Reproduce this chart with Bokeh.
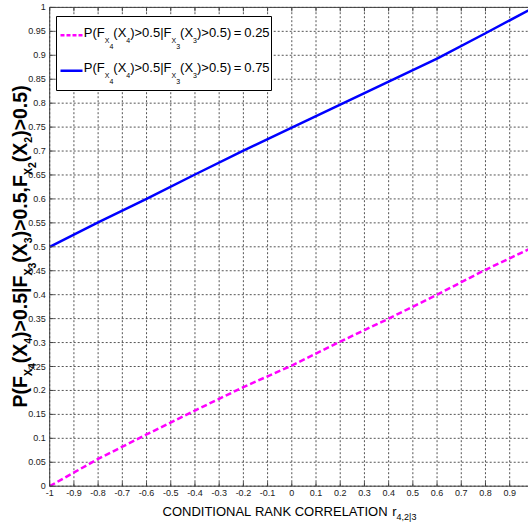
import math
from bokeh.plotting import figure
from bokeh.models import Label, ColumnDataSource
from bokeh.core.properties import value
from bokeh.embed import file_html
from bokeh.resources import INLINE

# ---------------- data ----------------
r_cond = [-1.0, -0.8, -0.6, -0.4, -0.2, 0.0, 0.2, 0.4, 0.6, 0.8, 1.0]
p_low = [0.000, 0.057, 0.108, 0.158, 0.207, 0.252, 0.302, 0.350, 0.400, 0.452, 0.500]
p_high = [0.500, 0.551, 0.600, 0.651, 0.701, 0.749, 0.797, 0.845, 0.893, 0.946, 1.000]

x_ticks = [-1.0, -0.9, -0.8, -0.7, -0.6, -0.5, -0.4, -0.3, -0.2, -0.1, 0.0,
           0.1, 0.2, 0.3, 0.4, 0.5, 0.6, 0.7, 0.8, 0.9]
x_tick_labels = ["-1", "-0.9", "-0.8", "-0.7", "-0.6", "-0.5", "-0.4", "-0.3", "-0.2", "-0.1", "0",
                 "0.1", "0.2", "0.3", "0.4", "0.5", "0.6", "0.7", "0.8", "0.9"]
y_ticks = [0.0, 0.05, 0.1, 0.15, 0.2, 0.25, 0.3, 0.35, 0.4, 0.45, 0.5,
           0.55, 0.6, 0.65, 0.7, 0.75, 0.8, 0.85, 0.9, 0.95, 1.0]
y_tick_labels = ["0", "0.05", "0.1", "0.15", "0.2", "0.25", "0.3", "0.35", "0.4", "0.45", "0.5",
                 "0.55", "0.6", "0.65", "0.7", "0.75", "0.8", "0.85", "0.9", "0.95", "1"]
x_domain_end = 1.0
legend_values = ["0.25", "0.75"]
legend_colors = ["#ff00ff", "#0000ff"]

# ---------------- layout (pixels) ----------------
W, H = 528, 529
X0PX, XS = 49.2, 242.1      # pixel column of r=-1 and pixels per unit
Y0PX, YS = 485.7, 478.8     # pixel row of p=0 and pixels per unit
x_rng = (-1.0 - X0PX / XS, -1.0 + (W - X0PX) / XS)
y_rng = ((Y0PX - H) / YS, Y0PX / YS)

def dx(px):
    return -1.0 + (px - X0PX) / XS

def dy(py):
    return (Y0PX - py) / YS

def sx(px):
    return px

def sy(py):
    return H - py

FONT = "Liberation Sans, Arial, sans-serif"
AXC = "#404040"
BASE_K = 0.36   # empirical shift of Bokeh's label anchor relative to the baseline (in em)

p = figure(width=W, height=H, x_range=x_rng, y_range=y_rng, title=None,
           x_axis_location=None, y_axis_location=None,
           output_backend="svg", toolbar_location=None, min_border=0)
p.outline_line_color = None
p.background_fill_color = "white"
p.border_fill_color = "white"
p.grid.visible = False

nx, ny = len(x_ticks), len(y_ticks)
gx = ColumnDataSource(dict(x=x_ticks, lo=[y_ticks[0]] * nx, hi=[y_ticks[-1]] * nx, t=x_tick_labels))
gy = ColumnDataSource(dict(y=y_ticks, lo=[x_ticks[0]] * ny, hi=[x_domain_end] * ny, t=y_tick_labels))

# dotted grid
p.segment(x0="x", y0="lo", x1="x", y1="hi", source=gx, line_color="#555555",
          line_dash="2 2", line_width=1)
p.segment(x0="lo", y0="y", x1="hi", y1="y", source=gy, line_color="#555555",
          line_dash="2 2", line_width=1)

# data
src = ColumnDataSource(dict(r=r_cond, lo=p_low, hi=p_high))
p.line("r", "lo", source=src, line_color=legend_colors[0], line_width=2.5, line_dash="6 3")
p.line("r", "hi", source=src, line_color=legend_colors[1], line_width=2.5)

# box (left, bottom, top) and inward ticks
p.segment(x0=[x_ticks[0], x_ticks[0], x_ticks[0]], y0=[y_ticks[0], y_ticks[0], y_ticks[-1]],
          x1=[x_ticks[0], x_domain_end, x_domain_end], y1=[y_ticks[-1], y_ticks[0], y_ticks[-1]],
          line_color=AXC, line_width=1)
p.ray(x="x", y="lo", source=gx, length=4, length_units="screen", angle=math.pi / 2,
      line_color=AXC, line_width=1)
p.ray(x="x", y="hi", source=gx, length=4, length_units="screen", angle=-math.pi / 2,
      line_color=AXC, line_width=1)
p.ray(x="lo", y="y", source=gy, length=4, length_units="screen", angle=0,
      line_color=AXC, line_width=1)

# tick labels
p.text(x="x", y="lo", text="t", source=gx, text_align="center", text_baseline="top",
       y_offset=4, text_font=value(FONT), text_font_size=value("9px"), text_color="#1a1a1a")
p.text(x="lo", y="y", text="t", source=gy, text_align="right", text_baseline="middle",
       x_offset=-4, text_font=value(FONT), text_font_size=value("9px"), text_color="#1a1a1a")

# legend box and sample lines
p.quad(left=[dx(56)], right=[dx(271)], top=[dy(16)], bottom=[dy(90)],
       fill_color="white", line_color="black", line_width=1)
row_base = [34.8, 70.3]
p.line([dx(60), dx(82)], [dy(row_base[0])] * 2, line_color=legend_colors[0], line_width=2.5,
       line_dash="4 2")
p.line([dx(60), dx(82)], [dy(row_base[1])] * 2, line_color=legend_colors[1], line_width=2.5)

# ---------------- rich text helper ----------------
AR = {' ': 278, '(': 333, ')': 333, ',': 278, '.': 278, '>': 584, '=': 584, '|': 260,
      'A': 667, 'C': 722, 'D': 722, 'E': 667, 'F': 611, 'I': 278, 'K': 667, 'L': 556,
      'N': 722, 'O': 778, 'P': 667, 'R': 722, 'T': 611, 'X': 667, 'r': 333}
ARB = dict(AR)
ARB['|'] = 280
for d in "0123456789":
    AR[d] = 556
    ARB[d] = 556

def rich(segs, x0, y0, size, widths, sub_size, shifts, bold=False, rotated=False):
    """segs: (text, level, anchor) ; anchor = absolute start along the run or None."""
    pos = 0.0
    for text, lvl, anchor in segs:
        if anchor is not None:
            pos = anchor
        fs = size if lvl == 0 else sub_size
        sh = shifts[lvl] - BASE_K * fs
        word, wstart = "", pos
        for ch in text + " ":
            cw = widths[ch] / 1000.0 * fs
            if ch == " ":
                if word:
                    if rotated:
                        lx, ly = x0 + sh, y0 - wstart
                    else:
                        lx, ly = x0 + wstart, y0 + sh
                    p.add_layout(Label(x=sx(lx), y=sy(ly), x_units="screen", y_units="screen",
                                       text=word, text_font=FONT, text_font_size=f"{fs}px",
                                       text_font_style="bold" if bold else "normal",
                                       text_color="black", text_align="left",
                                       text_baseline="alphabetic", level="overlay",
                                       angle=math.pi / 2 if rotated else 0.0))
                word = ""
                pos += cw
                wstart = pos
            else:
                word += ch
                pos += cw
        pos -= widths[' '] / 1000.0 * fs
    return pos

# x-axis label
rich([("CONDITIONAL RANK CORRELATION r", 0, None), ("4,2|3", 1, None)],
     162.0, 516, 13, AR, 9, [0, 4])

# y-axis label (rotated, reads bottom to top)
rich([("P(F", 0, None), ("X", 1, None), ("4", 2, None), ("(X", 0, None), ("4", 1, None),
      (")>0.5|F", 0, None), ("X", 1, None), ("3", 2, None), ("(X", 0, None), ("3", 1, None),
      (")>0.5,F", 0, None), ("X", 1, None), ("2", 2, None), ("(X", 0, None), ("2", 1, None),
      (")>0.5)", 0, None)],
     26.5, 407, 19.5, ARB, 10.5, [0, 4.5, 9], bold=True, rotated=True)

# legend texts
for base, val in zip(row_base, legend_values):
    rich([("P(F", 0, None), ("X", 1, None), ("4", 2, None), ("(X", 0, None), ("4", 1, None),
          (")>0.5|F", 0, None), ("X", 1, None), ("3", 2, None), ("(X", 0, None), ("3", 1, None),
          (")>0.5)", 0, None), ("=", 0, 150.0), (val, 0, 160.5)],
         83.3, base + 1.5, 13, AR, 7, [0, 6, 12])

open("out.html", "w").write(file_html(p, INLINE))
